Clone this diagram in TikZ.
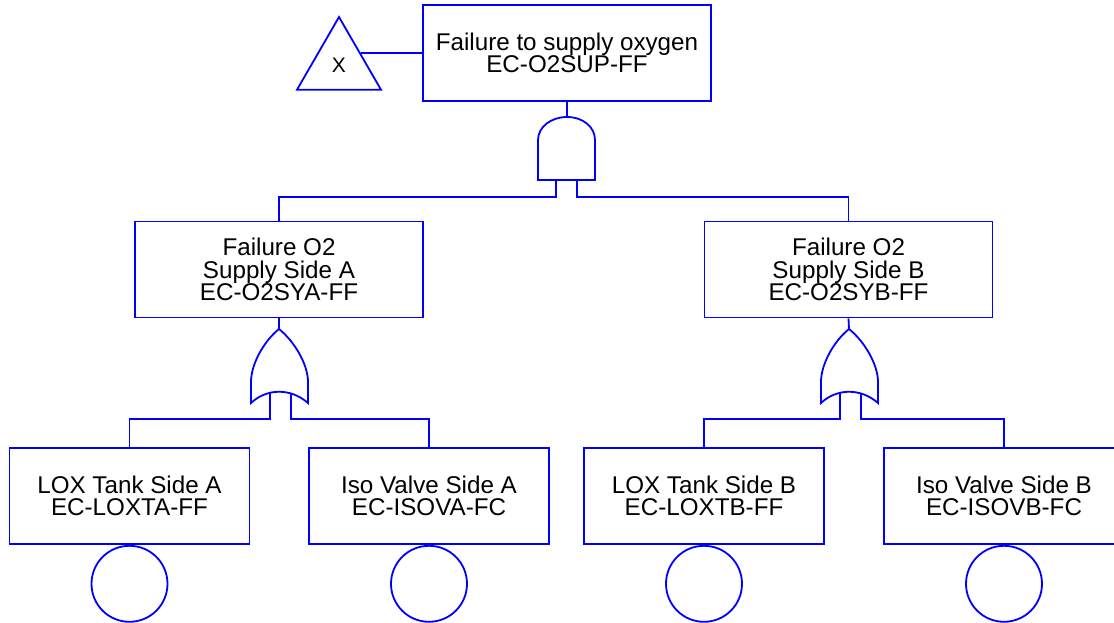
\documentclass[tikz,border=0pt]{standalone}
\usepackage{fontspec}
\setmainfont{Liberation Sans}
\usetikzlibrary{positioning, shapes.geometric}
\definecolor{ftblue}{HTML}{0000FF}

\begin{document}
\begin{tikzpicture}[x=1pt, y=-1pt, line width=1.8pt,
  event/.style={draw=ftblue, fill=white, inner sep=0pt, minimum width=288pt,
    minimum height=96pt, align=center, font=\fontsize{24.2}{22.4}\selectfont},
  basic/.style={event, minimum width=240pt},
  leaf/.style={draw=ftblue, circle, minimum size=76pt, inner sep=0pt},
  wire/.style={draw=ftblue},
  orgate/.pic={
    \draw[ftblue] (0,0) .. controls (-15,12) and (-28,35) .. (-28,53) -- (-28,74)
      .. controls (-12,59) and (12,59) .. (29,74) -- (29,53)
      .. controls (29,35) and (15,12) .. (0,0) -- cycle;
    \coordinate (-out) at (0,0);
    \coordinate (-in1) at (-9,64);
    \coordinate (-in2) at (12,64);
  },
  andgate/.pic={
    \draw[ftblue] (-29,23) .. controls (-29,10) and (-16,0) .. (0,0)
      .. controls (16,0) and (28,10) .. (28,23) -- (28,63) -- (-29,63) -- cycle;
    \coordinate (-out) at (0,0);
    \coordinate (-in1) at (-11,63);
    \coordinate (-in2) at (10,63);
  }]

% Page
\useasboundingbox (0,0) rectangle (1114,623);

% Top event and transfer triangle
\node[event] (topev) at (567,53) {Failure to supply oxygen\\EC-O2SUP-FF};
\node[draw=ftblue, regular polygon, regular polygon sides=3, minimum size=97pt,
      inner sep=0pt, font=\fontsize{21}{21}\selectfont] (xfer) at (339,65.5) {X};
\draw[wire] (xfer.side 3) -- (topev.west);

% AND gate
\pic (andg) at (567,117) {andgate};
\draw[wire] (topev.south) -- (andg-out);

% Side events
\node[event] (sideA) at (279,269.5) {Failure O2\\Supply Side A\\EC-O2SYA-FF};
\node[event] (sideB) at (848.5,269.5) {Failure O2\\Supply Side B\\EC-O2SYB-FF};
\draw[wire] (andg-in1) -- ++(0,17) -| (sideA.north);
\draw[wire] (andg-in2) -- ++(0,17) -| (sideB.north);

% OR gates
\pic (orA) at (279,329) {orgate};
\pic (orB) at (849,329) {orgate};
\draw[wire] (sideA.south) -- (orA-out);
\draw[wire] (sideB.south) -- (orB-out);

% Basic events
\node[basic] (loxA) at (129.5,496) {LOX Tank Side A\\EC-LOXTA-FF};
\node[basic] (isoA) at (429,496) {Iso Valve Side A\\EC-ISOVA-FC};
\node[basic] (loxB) at (704,496) {LOX Tank Side B\\EC-LOXTB-FF};
\node[basic] (isoB) at (1004,496) {Iso Valve Side B\\EC-ISOVB-FC};
\draw[wire] (orA-in1) -- ++(0,26) -| (loxA.north);
\draw[wire] (orA-in2) -- ++(0,26) -| (isoA.north);
\draw[wire] (orB-in1) -- ++(0,26) -| (loxB.north);
\draw[wire] (orB-in2) -- ++(0,26) -| (isoB.north);

% Basic event circles
\node[leaf, below=0pt of loxA] (loxAev) {};
\node[leaf, below=0pt of isoA] (isoAev) {};
\node[leaf, below=0pt of loxB] (loxBev) {};
\node[leaf, below=0pt of isoB] (isoBev) {};

\end{tikzpicture}
\end{document}
